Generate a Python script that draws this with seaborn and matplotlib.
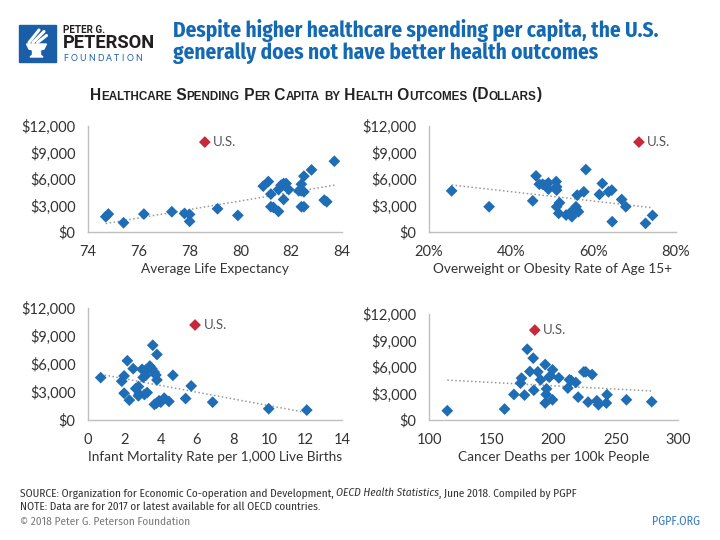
import matplotlib
matplotlib.use("Agg")
import matplotlib.pyplot as plt
import seaborn as sns
import pandas as pd
from matplotlib.patches import Rectangle, Polygon
from matplotlib.ticker import FixedLocator, FuncFormatter
import logging
logging.getLogger("matplotlib.font_manager").setLevel(logging.ERROR)

# ---------------- data ----------------
life_expectancy = [74.7, 74.8, 75.4, 76.2, 77.3, 77.8, 78.0, 78.0, 79.1, 79.9,
                   80.9, 81.1, 81.2, 81.2, 81.3, 81.5, 81.5, 81.6, 81.7, 81.8,
                   81.9, 81.7, 82.3, 82.4, 82.4, 82.4, 82.5, 82.5, 82.5, 82.8,
                   83.3, 83.4, 83.7]
life_spending = [1730, 2030, 1050, 2030, 2290, 2100, 1990, 1200, 2630, 1880,
                 5190, 5710, 4290, 2860, 2780, 2330, 4810, 5300, 5490, 5490,
                 4810, 3680, 4660, 5410, 4660, 2860, 2860, 4550, 6320, 7030,
                 3610, 3420, 8010]

obesity_rate = [25.5, 34.6, 45.2, 46.0, 46.8, 47.6, 48.2, 49.0, 49.0, 50.9,
                51.0, 51.0, 51.0, 51.7, 51.5, 53.3, 54.3, 54.7, 55.1, 55.7,
                55.9, 56.3, 56.0, 57.6, 58.1, 61.4, 62.1, 63.6, 64.4, 64.5,
                66.8, 67.8, 72.6, 74.3]
obesity_spending = [4660, 2860, 3530, 6350, 5410, 5410, 5300, 5560, 4850, 5710,
                    5110, 4740, 2860, 3310, 2110, 1920, 2180, 1730, 2290, 2860,
                    2480, 2290, 4170, 4550, 7070, 4250, 5490, 4550, 4740, 1170,
                    3680, 2860, 980, 1880]

infant_mortality = [0.7, 1.86, 1.99, 1.99, 2.17, 2.28, 2.49, 2.63, 2.78, 2.82,
                    2.78, 2.98, 3.04, 3.11, 3.19, 3.26, 3.19, 3.41, 3.52, 3.65,
                    3.74, 3.80, 3.57, 3.80, 3.66, 3.78, 3.92, 4.01, 4.20, 4.46,
                    4.68, 5.38, 5.69, 6.87, 9.96, 12.06]
infant_spending = [4540, 4150, 4720, 2870, 6350, 2130, 5500, 3370, 3580, 2770,
                   2590, 5430, 4570, 2730, 4790, 2940, 5360, 5780, 5500, 5140,
                   4820, 4290, 8010, 7020, 1670, 1810, 2060, 1910, 2340, 1990,
                   4790, 2300, 3650, 1910, 1210, 1060]

cancer_deaths = [114.7, 160.7, 168.2, 176.7, 173.5, 174.3, 178.9, 181.0, 183.7, 184.2,
                 187.4, 189.6, 193.3, 193.3, 194.4, 194.1, 196.5, 197.6, 199.2, 199.2,
                 204.3, 211.5, 212.8, 214.2, 217.9, 219.8, 224.3, 225.9, 227.8, 231.0,
                 234.8, 236.1, 243.0, 242.5, 258.6, 278.9]
cancer_spending = [1050, 1240, 2890, 2820, 4170, 4740, 8010, 5490, 7000, 3370,
                   5450, 4550, 6280, 1920, 3530, 2890, 4850, 5000, 5680, 2290,
                   4770, 3610, 4550, 4470, 4250, 2590, 5450, 5450, 2030, 5150,
                   2180, 1730, 2860, 1920, 2290, 2070]

us_spending = 10180
us_life = 78.6
us_obesity = 71.0
us_infant = 5.9
us_cancer = 185.0

# ---------------- style ----------------
sns.set_style("white")
plt.rcParams["font.family"] = ["Lato", "DejaVu Sans"]

W, H = 720, 540
fig = plt.figure(figsize=(7.2, 5.4), dpi=100)
renderer = fig.canvas.get_renderer()

BLUE = "#1f6db5"
RED = "#c62a3a"
TITLE_BLUE = "#1469b3"
TXT = "#333333"
SPINE = "#bfbfbf"

CONDENSED = ["Fira Sans Condensed", "Roboto Condensed", "IBM Plex Sans Condensed",
             "Archivo Narrow", "PT Sans Narrow", "Liberation Sans Narrow", "DejaVu Sans"]


def text_width(s, **kw):
    t = fig.text(0, 0, "|" + s + "|", **kw)
    w1 = t.get_window_extent(renderer).width
    t.set_text("||")
    w2 = t.get_window_extent(renderer).width
    t.remove()
    return w1 - w2


def draw_runs(x, y, runs):
    for s, kw in runs:
        fig.text(x / W, 1 - y / H, s, ha="left", va="baseline", **kw)
        x += text_width(s, **kw)
    return x


def fit_size(runs, target):
    w = sum(text_width(s, **kw) for s, kw in runs)
    return target / w


# ---------------- panels ----------------
panels = [
    dict(x=life_expectancy, y=life_spending, us=us_life,
         rect=[88, 126, 342, 232], xlim=(74, 84), xticks=[74, 76, 78, 80, 82, 84],
         fmt=lambda v, p: f"{v:.0f}", xlabel="Average Life Expectancy"),
    dict(x=obesity_rate, y=obesity_spending, us=us_obesity,
         rect=[429, 126, 676, 232], xlim=(20, 80), xticks=[20, 40, 60, 80],
         fmt=lambda v, p: f"{v:.0f}%", xlabel="Overweight or Obesity Rate of Age 15+"),
    dict(x=infant_mortality, y=infant_spending, us=us_infant,
         rect=[88, 308, 342, 420], xlim=(0, 14), xticks=[0, 2, 4, 6, 8, 10, 12, 14],
         fmt=lambda v, p: f"{v:.0f}", xlabel="Infant Mortality Rate per 1,000 Live Births"),
    dict(x=cancer_deaths, y=cancer_spending, us=us_cancer,
         rect=[429, 314, 678, 420], xlim=(100, 300), xticks=[100, 150, 200, 250, 300],
         fmt=lambda v, p: f"{v:.0f}", xlabel="Cancer Deaths per 100k People"),
]

for p in panels:
    x0, y0, x1, y1 = p["rect"]
    ax = fig.add_axes([x0 / W, 1 - y1 / H, (x1 - x0) / W, (y1 - y0) / H])
    df = pd.DataFrame({"x": p["x"], "y": p["y"]})
    sns.regplot(data=df, x="x", y="y", scatter=False, ci=None, ax=ax,
                line_kws=dict(color="#9a9a9a", lw=1.1, ls=(0, (1, 1.6)), zorder=2))
    sns.scatterplot(data=df, x="x", y="y", marker="D", s=36, color=BLUE,
                    edgecolor="none", linewidth=0, ax=ax, zorder=3)
    us_df = pd.DataFrame({"x": [p["us"]], "y": [us_spending]})
    sns.scatterplot(data=us_df, x="x", y="y", marker="D", s=36, color=RED,
                    edgecolor="none", linewidth=0, ax=ax, zorder=3)
    ax.annotate("U.S.", (p["us"], us_spending), xytext=(6, 0),
                textcoords="offset points", va="center", ha="left",
                fontsize=9.5, color="#555555")
    ax.set_xlim(*p["xlim"])
    ax.set_ylim(0, 12000)
    ax.xaxis.set_major_locator(FixedLocator(p["xticks"]))
    ax.xaxis.set_major_formatter(FuncFormatter(p["fmt"]))
    ax.yaxis.set_major_locator(FixedLocator([0, 3000, 6000, 9000, 12000]))
    ax.yaxis.set_major_formatter(FuncFormatter(lambda v, pos: f"${v:,.0f}"))
    ax.set_xlabel(p["xlabel"], fontsize=9.8, color=TXT, labelpad=3)
    ax.set_ylabel("")
    for s in ["top", "right"]:
        ax.spines[s].set_visible(False)
    for s in ["left", "bottom"]:
        ax.spines[s].set_color(SPINE)
        ax.spines[s].set_linewidth(1.0)
    ax.tick_params(axis="both", direction="out", length=4, width=1.0, color=SPINE,
                   labelcolor=TXT, labelsize=10.5, pad=5)
    ax.patch.set_alpha(0)

# ---------------- logo ----------------
LOGO_BLUE = "#1a5ea8"
fig.patches.append(Rectangle((19 / W, 1 - 62 / H), 37 / W, 37 / H,
                             transform=fig.transFigure, color=LOGO_BLUE, zorder=1))
cup = [(26.5, 44), (46.5, 44), (44, 49), (40.5, 50), (40.5, 55), (43, 57),
       (30, 57), (32.5, 55), (32.5, 50), (29, 49)]
fig.patches.append(Polygon([(px / W, 1 - py / H) for px, py in cup], closed=True,
                           transform=fig.transFigure, color="white", zorder=2))
for (ax_, ay_), (bx_, by_) in [((29, 42.5), (39, 30)), ((33, 42.5), (44, 31.5)),
                               ((37.5, 42.5), (46.5, 35.5))]:
    fig.lines.append(plt.Line2D([ax_ / W, bx_ / W], [1 - ay_ / H, 1 - by_ / H],
                                transform=fig.transFigure, color="white", lw=2.2,
                                solid_capstyle="round", zorder=3))

lkw = dict(family=["Roboto", "Liberation Sans", "DejaVu Sans"], weight="bold",
           color="#231f20", fontsize=10)
k = fit_size([("PETER G.", lkw)], 42)
draw_runs(63, 32.7, [("PETER G.", dict(lkw, fontsize=min(10 * k, 8.3)))])
k = fit_size([("PETERSON", lkw)], 92)
draw_runs(63, 48.5, [("PETERSON", dict(lkw, fontsize=min(10 * k, 13.5)))])
# spaced FOUNDATION
fkw = dict(family=["Lato", "DejaVu Sans"], color=LOGO_BLUE, fontsize=6.3)
letters = "FOUNDATION"
lw = [text_width(c, **fkw) for c in letters]
gap = (79 - sum(lw)) / (len(letters) - 1)
xx = 63
for c, w_ in zip(letters, lw):
    fig.text(xx / W, 1 - 61 / H, c, ha="left", va="baseline", **fkw)
    xx += w_ + gap

# ---------------- titles ----------------
tkw = dict(family=CONDENSED, weight="bold", color=TITLE_BLUE, fontsize=10)
line1 = "Despite higher healthcare spending per capita, the U.S."
line2 = "generally does not have better health outcomes"
k = fit_size([(line1, tkw)], 487)
tkw["fontsize"] = 10 * k
draw_runs(173, 37, [(line1, tkw)])
draw_runs(173, 59.5, [(line2, tkw)])

# small-caps chart title
title = "Healthcare Spending Per Capita by Health Outcomes (Dollars)"


def sc_runs(s, big, small):
    out = []
    cur, cur_small = "", None
    for ch in s:
        is_small = ch.islower()
        if cur_small is None or is_small == cur_small:
            cur += ch.upper()
        else:
            out.append((cur, cur_small))
            cur = ch.upper()
        cur_small = is_small
    out.append((cur, cur_small))
    return [(txt, dict(family=["Liberation Sans", "DejaVu Sans"], weight="bold",
                       color="#222222", fontsize=small if sm else big))
            for txt, sm in out]


r = sc_runs(title, 10, 7.5)
k = fit_size(r, 453)
r = sc_runs(title, 10 * k, 7.5 * k)
draw_runs(90, 99.5, r)

# ---------------- footer ----------------
fkw_n = dict(family=CONDENSED, color=TXT, fontsize=10)
fkw_i = dict(family=CONDENSED, color=TXT, fontsize=10, style="italic")
src = [("SOURCE: Organization for Economic Co-operation and Development, ", fkw_n),
       ("OECD Health Statistics", fkw_i),
       (", June 2018. Compiled by PGPF", fkw_n)]
k = fit_size(src, 558)
fkw_n["fontsize"] = 10 * k
fkw_i["fontsize"] = 10 * k
draw_runs(20, 496.5, src)
draw_runs(20, 509.5, [("NOTE: Data are for 2017 or latest available for all OECD countries.", fkw_n)])
ckw = dict(family=CONDENSED, color="#7a7a7a", fontsize=10 * k)
draw_runs(20, 525, [("\u00a9 2018 Peter G. Peterson Foundation", ckw)])
pkw = dict(family=CONDENSED, color="#3a7cc0", fontsize=10 * k * 1.05)
fig.text(700 / W, 1 - 525 / H, "PGPF.ORG", ha="right", va="baseline", **pkw)

fig.savefig("out.png", dpi=100)
